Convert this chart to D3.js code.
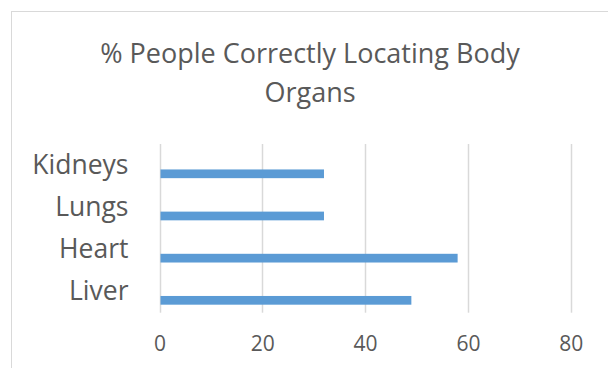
<!DOCTYPE html>
<html>
<head>
<meta charset="utf-8">
<script src="https://cdn.jsdelivr.net/npm/d3@7"></script>
<style>
  html, body { margin: 0; padding: 0; background: #fff; }
  svg { display: block; }
  text { font-family: "Open Sans", "Liberation Sans", sans-serif; fill: #595959; }
</style>
</head>
<body>
<svg id="chart" width="608" height="368"></svg>
<script>
// Data (Excel order: first category at the bottom)
const categories = ["Liver", "Heart", "Lungs", "Kidneys"];
const values = [49, 58, 32, 32];
const xTicks = [0, 20, 40, 60, 80];
const titleLines = ["% People Correctly Locating Body", "Organs"];

const svg = d3.select("#chart");
const W = 608, H = 368;

// chart frame
svg.append("rect")
  .attr("x", 11.5).attr("y", 11.5)
  .attr("width", W + 10).attr("height", H + 10)
  .attr("fill", "#fff").attr("stroke", "#d9d9d9").attr("stroke-width", 1);

const plot = { left: 159.5, right: 570.7, top: 144, bottom: 312.7 };

const x = d3.scaleLinear().domain([0, 80]).range([plot.left, plot.right]);
const y = d3.scaleBand()
  .domain(categories.slice().reverse())
  .range([plot.top, plot.bottom])
  .paddingInner(0.38)
  .paddingOuter(0.19);
// three series slots per category; only the last one holds data
const slot = d3.scaleBand().domain([0, 1, 2]).range([0, y.bandwidth()]);

// gridlines
svg.append("g")
  .selectAll("line")
  .data(xTicks)
  .join("line")
  .attr("x1", d => Math.round(x(d)) + 0.5)
  .attr("x2", d => Math.round(x(d)) + 0.5)
  .attr("y1", plot.top)
  .attr("y2", plot.bottom)
  .attr("stroke", "#d9d9d9")
  .attr("stroke-width", 1.5);

// bars
svg.append("g")
  .selectAll("rect")
  .data(categories.map((c, i) => ({ c, v: values[i] })))
  .join("rect")
  .attr("x", x(0) + 1)
  .attr("y", d => y(d.c) + slot(2))
  .attr("width", d => x(d.v) - x(0) - 1)
  .attr("height", slot.bandwidth())
  .attr("fill", "#5b9bd5");

// x axis labels
const xAxis = d3.axisBottom(x).tickValues(xTicks).tickSize(0).tickPadding(0).tickFormat(d3.format("d"));
const gx = svg.append("g")
  .attr("transform", `translate(0, ${plot.bottom})`)
  .call(xAxis);
gx.select(".domain").remove();
gx.selectAll("text")
  .attr("dy", null)
  .attr("y", 38)
  .attr("font-size", 21)
  .attr("font-family", "\"Open Sans\", sans-serif")
  .attr("fill", "#595959");

// y axis labels
const yAxis = d3.axisLeft(y).tickSize(0).tickPadding(0);
const gy = svg.append("g")
  .attr("transform", `translate(${128.5}, 0)`)
  .call(yAxis);
gy.select(".domain").remove();
gy.selectAll("text")
  .attr("dy", null)
  .attr("x", 0)
  .attr("y", 8.5)
  .attr("font-size", 26.5)
  .attr("font-family", "\"Open Sans\", sans-serif")
  .attr("fill", "#595959");

// title
svg.append("text")
  .attr("text-anchor", "middle")
  .attr("font-size", 27)
  .selectAll("tspan")
  .data(titleLines)
  .join("tspan")
  .attr("x", 310)
  .attr("y", (d, i) => 63.3 + i * 38.4)
  .text(d => d);
</script>
</body>
</html>
